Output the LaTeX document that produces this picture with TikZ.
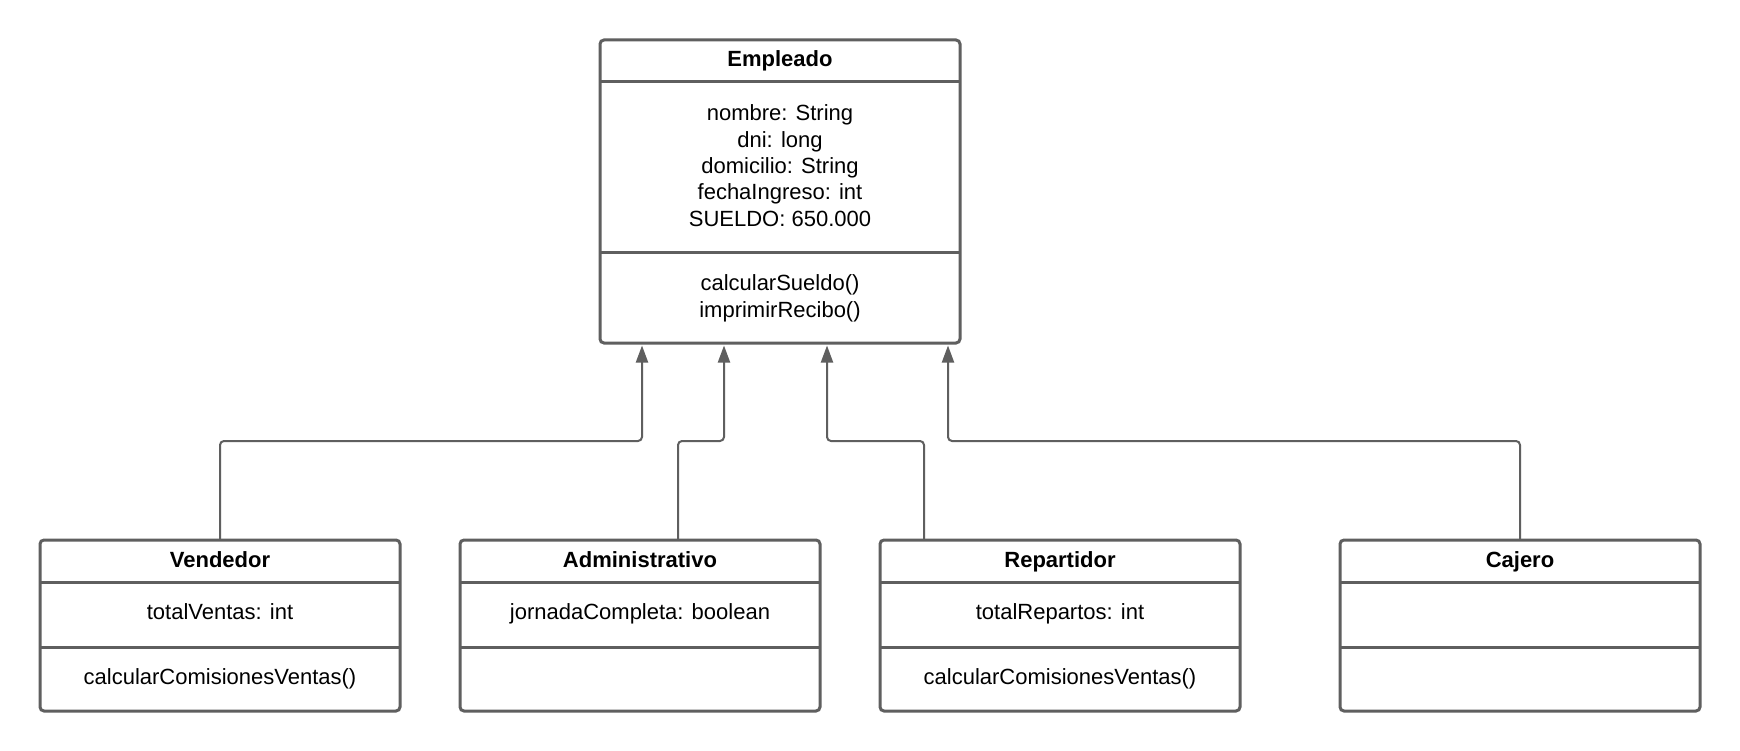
\documentclass[tikz,border=0pt]{standalone}
\usepackage{fontspec}
\setmainfont{Liberation Sans}
\usetikzlibrary{arrows.meta,calc}
\definecolor{linec}{RGB}{95,95,95}
\begin{document}
\begin{tikzpicture}[x=1pt,y=-1pt,
  classbox/.style={draw=linec,line width=3pt,rounded corners=4pt,inner sep=0pt,outer sep=0pt,minimum width=360pt},
  bigbox/.style={classbox,minimum height=303pt},
  smallbox/.style={classbox,minimum height=171pt},
  ctitle/.style={font=\fontsize{22}{26}\selectfont\bfseries,inner sep=0pt,anchor=base},
  txt/.style={font=\fontsize{22}{26}\selectfont,inner sep=0pt,anchor=base},
  divider/.style={draw=linec,line width=3pt},
  conn/.style={draw=linec,line width=2pt,rounded corners=4pt,-{Triangle[width=12pt,length=17pt]}}]

\fill[white] (0,0) rectangle (1740,751);
\useasboundingbox (0,0) rectangle (1740,751);

% ---------- Empleado ----------
\node[bigbox] (emp) at (780,191.5) {};
\draw[divider] ($(emp.north west)+(0,42)$) -- ($(emp.north east)+(0,42)$);
\draw[divider] ($(emp.north west)+(0,213)$) -- ($(emp.north east)+(0,213)$);
\node[ctitle] (empT) at ($(emp.north)+(0,27)$) {Empleado};
\node[txt] (empA1) at ($(emp.north)+(0,81)$) {nombre: String};
\node[txt] (empA2) at ($(emp.north)+(0,107.3)$) {dni: long};
\node[txt] (empA3) at ($(emp.north)+(0,133.6)$) {domicilio: String};
\node[txt] (empA4) at ($(emp.north)+(0,160)$) {fechaIngreso: int};
\node[txt] (empA5) at ($(emp.north)+(0,186.3)$) {SUELDO: 650.000};
\node[txt] (empM1) at ($(emp.north)+(0,250.7)$) {calcularSueldo()};
\node[txt] (empM2) at ($(emp.north)+(0,277)$) {imprimirRecibo()};

% ---------- subclasses ----------
\node[smallbox] (ven) at (220,625.5) {};
\node[smallbox] (adm) at (640,625.5) {};
\node[smallbox] (rep) at (1060,625.5) {};
\node[smallbox] (caj) at (1520,625.5) {};

\foreach \b in {ven,adm,rep,caj}{
  \draw[divider] ($(\b.north west)+(0,42)$) -- ($(\b.north east)+(0,42)$);
  \draw[divider] ($(\b.north west)+(0,107)$) -- ($(\b.north east)+(0,107)$);
}

\node[ctitle] (venT) at ($(ven.north)+(0,27)$) {Vendedor};
\node[txt] (venA) at ($(ven.north)+(0,79.5)$) {totalVentas: int};
\node[txt] (venM) at ($(ven.north)+(0,144.5)$) {calcularComisionesVentas()};

\node[ctitle] (admT) at ($(adm.north)+(0,27)$) {Administrativo};
\node[txt] (admA) at ($(adm.north)+(0,79.5)$) {jornadaCompleta: boolean};

\node[ctitle] (repT) at ($(rep.north)+(0,27)$) {Repartidor};
\node[txt] (repA) at ($(rep.north)+(0,79.5)$) {totalRepartos: int};
\node[txt] (repM) at ($(rep.north)+(0,144.5)$) {calcularComisionesVentas()};

\node[ctitle] (cajT) at ($(caj.north)+(0,27)$) {Cajero};

% ---------- generalisation connectors ----------
\coordinate (e1) at ($(emp.south west)+(42,2.5)$);
\coordinate (e2) at ($(emp.south west)+(124,2.5)$);
\coordinate (e3) at ($(emp.south west)+(227,2.5)$);
\coordinate (e4) at ($(emp.south west)+(348,2.5)$);
\coordinate (a0) at ($(adm.north)+(38,0)$);
\coordinate (r0) at ($(rep.north)+(-136,0)$);

\draw[conn] (ven.north) -- ++(0,-99) -| (e1);
\draw[conn] (a0) -- ++(0,-99) -| (e2);
\draw[conn] (r0) -- ++(0,-99) -| (e3);
\draw[conn] (caj.north) -- ++(0,-99) -| (e4);
\end{tikzpicture}
\end{document}
